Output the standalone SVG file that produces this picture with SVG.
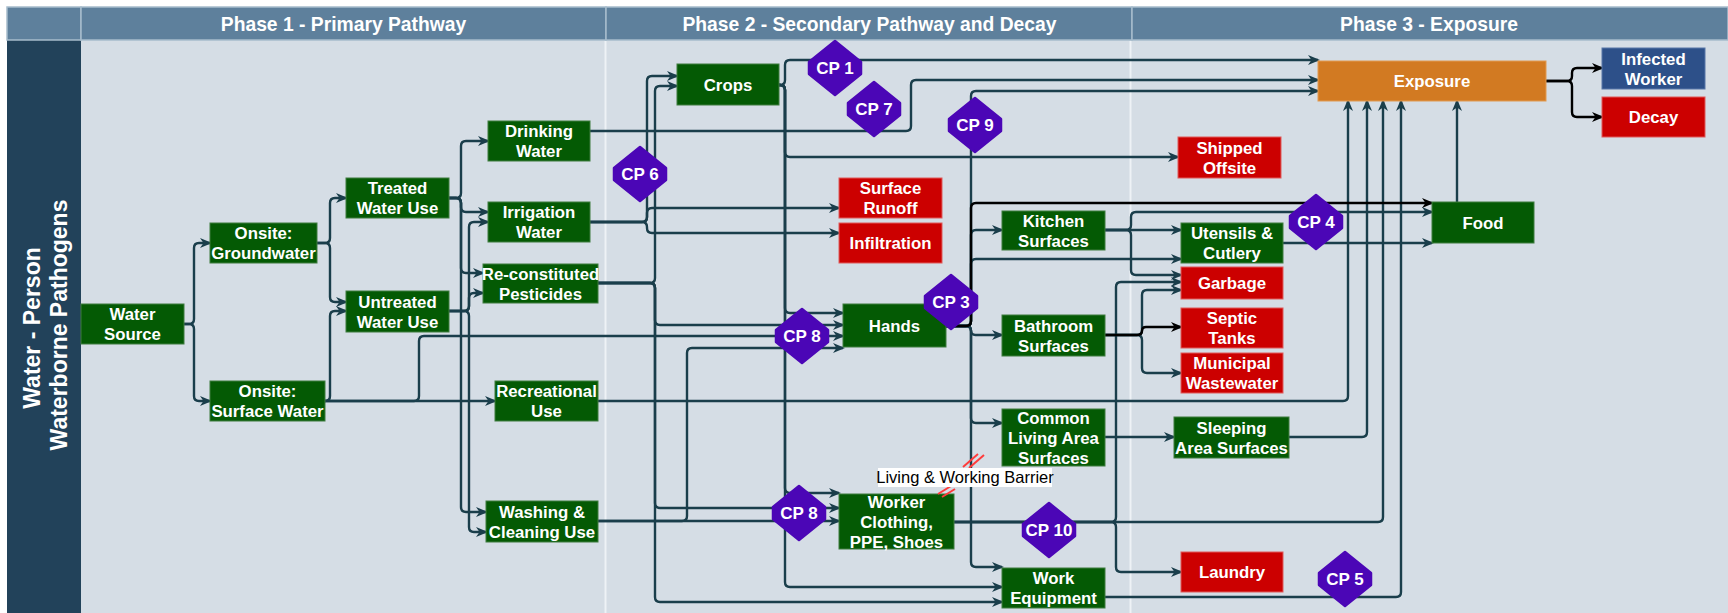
<svg xmlns="http://www.w3.org/2000/svg" xmlns:xlink="http://www.w3.org/1999/xlink" width="1728" height="613" viewBox="0 0 1728 613">
<style>
  .hdr{fill:#5e809c;stroke:#a7bccc;stroke-width:1.5}
  .ht{font-family:"Liberation Sans",Arial,sans-serif;font-weight:bold;font-size:19.3px;fill:#fff;text-anchor:middle}
  .lane{font-family:"Liberation Sans",Arial,sans-serif;font-weight:bold;font-size:23px;fill:#fff;text-anchor:middle}
  .g{fill:#045a04;stroke:#3f7d3f;stroke-width:1}
  .r{fill:#cc0000;stroke:#e05a5a;stroke-width:1}
  .o{fill:#d27a22;stroke:#e29a50;stroke-width:1}
  .b{fill:#2d5089;stroke:#5877a8;stroke-width:1}
  .t{font-family:"Liberation Sans",Arial,sans-serif;font-weight:bold;font-size:16.8px;fill:#fff;text-anchor:middle}
  #connectors path{fill:none;stroke:#1a3e4b;stroke-width:2.4;marker-end:url(#arr)}
  #connectors path.k{stroke:#000;marker-end:url(#arrk)}
  .cp{fill:#4b06b6;stroke:#4b06b6;stroke-width:2.5;stroke-linejoin:round}
  .ct{font-family:"Liberation Sans",Arial,sans-serif;font-weight:bold;font-size:17px;fill:#fff;text-anchor:middle}
  .sep{stroke:#eef2f6;stroke-width:2}
  .bar{stroke:#ff3b3b;stroke-width:2}
</style>
<defs>
  <marker id="arr" viewBox="0 0 12 10" refX="10" refY="5" markerWidth="12" markerHeight="10" markerUnits="userSpaceOnUse" orient="auto">
    <path d="M0,0 L12,5 L0,10 L3.5,5 Z" fill="#1a3e4b"/>
  </marker>
  <marker id="arrk" viewBox="0 0 12 10" refX="10" refY="5" markerWidth="12" markerHeight="10" markerUnits="userSpaceOnUse" orient="auto">
    <path d="M0,0 L12,5 L0,10 L3.5,5 Z" fill="#000"/>
  </marker>
  <path id="cpShape" d="M0,-27 L26,-6 L26,6 L0,27 L-26,6 L-26,-6 Z"/>
</defs>

<!-- swimlane table -->
<g id="lanes">
  <rect x="0" y="0" width="1728" height="613" fill="#fff"/>
  <rect x="7" y="40" width="1721" height="573" fill="#d5dde5"/>
  <rect x="7" y="40" width="74" height="573" fill="#22425a"/>
  <rect class="hdr" x="7" y="7" width="74" height="33"/>
  <rect class="hdr" x="81" y="7" width="525" height="33"/>
  <rect class="hdr" x="606" y="7" width="526" height="33"/>
  <rect class="hdr" x="1132" y="7" width="596" height="33"/>
  <line class="sep" x1="605.5" y1="41" x2="605.5" y2="613"/>
  <line class="sep" x1="1130.5" y1="41" x2="1130.5" y2="613"/>
  <text class="ht" x="343.5" y="31">Phase 1 - Primary Pathway</text>
  <text class="ht" x="869.5" y="31">Phase 2 - Secondary Pathway and Decay</text>
  <text class="ht" x="1429" y="31">Phase 3 - Exposure</text>
  <text class="lane" transform="translate(40,328) rotate(-90)">Water - Person</text>
  <text class="lane" transform="translate(67,325) rotate(-90)">Waterborne Pathogens</text>
</g>

<!-- connectors -->
<g id="connectors">
  <path d="M184,324 H189 Q194,324 194,319 V248 Q194,243 199,243 H210"/>
  <path d="M184,324 H189 Q194,324 194,329 V396 Q194,401 199,401 H210"/>
  <path d="M317,243 H325 Q330,243 330,238 V203 Q330,198 335,198 H346"/>
  <path d="M317,243 H325 Q330,243 330,248 V297 Q330,302 335,302 H346"/>
  <path d="M325,401 Q330,401 330,396 V316 Q330,311 335,311 H346"/>
  <path d="M325,401 H495"/>
  <path d="M325,401 H414 Q419,401 419,396 V341 Q419,336 424,336 H843"/>
  <path d="M449,198 H456 Q461,198 461,193 V146 Q461,141 466,141 H488"/>
  <path d="M449,198 H456 Q461,198 461,203 V207 Q461,212 466,212 H488"/>
  <path d="M449,198 H456 Q461,198 461,203 V268 Q461,273 466,273 H483"/>
  <path d="M449,198 H456 Q461,198 461,203 V507 Q461,512 466,512 H486"/>
  <path d="M449,311 H464 Q469,311 469,306 V227 Q469,222 474,222 H488"/>
  <path d="M449,311 H464 Q469,311 469,306 V298 Q469,293 474,293 H483"/>
  <path d="M449,311 H464 Q469,311 469,316 V527 Q469,532 474,532 H486"/>
  <path d="M590,131 H906 Q911,131 911,126 V85 Q911,80 916,80 H1318"/>
  <path d="M779,85 H780 Q785,85 785,80 V65 Q785,60 790,60 H1318"/>
  <path d="M779,85 H780 Q785,85 785,90 V152 Q785,157 790,157 H1178"/>
  <path d="M779,85 H780 Q785,85 785,90 V308 Q785,313 790,313 H843"/>
  <path d="M779,85 H780 Q785,85 785,90 V488 Q785,493 790,493 H839"/>
  <path d="M779,85 H780 Q785,85 785,90 V582 Q785,587 790,587 H1002"/>
  <path d="M590,222 H642 Q647,222 647,217 V81 Q647,76 652,76 H677"/>
  <path d="M590,222 H642 Q647,222 647,217 V213 Q647,208 652,208 H839"/>
  <path d="M590,222 H642 Q647,222 647,227 V228 Q647,233 652,233 H839"/>
  <path d="M598,283 H650 Q655,283 655,278 V91 Q655,86 660,86 H677"/>
  <path d="M598,283 H650 Q655,283 655,288 V320 Q655,325 660,325 H843"/>
  <path d="M598,283 H650 Q655,283 655,288 V503 Q655,508 660,508 H839"/>
  <path d="M598,283 H650 Q655,283 655,288 V597 Q655,602 660,602 H1002"/>
  <path d="M598,521 H839"/>
  <path d="M598,521 H682 Q687,521 687,516 V353 Q687,348 692,348 H843"/>
  <path d="M598,401 H1343 Q1348,401 1348,396 V101"/>
  <path d="M946,326 H966 Q971,326 971,321 V96 Q971,91 976,91 H1318"/>
  <path d="M946,326 H966 Q971,326 971,321 V235 Q971,230 976,230 H1002"/>
  <path d="M946,326 H966 Q971,326 971,321 V264 Q971,259 976,259 H1181"/>
  <path d="M946,326 H966 Q971,326 971,330.5 Q971,335 975.5,335 H1002"/>
  <path d="M946,326 H966 Q971,326 971,331 V418 Q971,423 976,423 H1002"/>
  <path d="M946,326 H966 Q971,326 971,331 V562 Q971,567 976,567 H1002"/>
  <path d="M1105,230 H1181"/>
  <path d="M1105,230 H1126 Q1131,230 1131,225 V217 Q1131,212 1136,212 H1432"/>
  <path d="M1105,230 H1126 Q1131,230 1131,235 V270 Q1131,275 1136,275 H1181"/>
  <path d="M1105,335 H1137 Q1142,335 1142,340 V368 Q1142,373 1147,373 H1181"/>
  <path d="M1105,335 H1137 Q1142,335 1142,330 V295 Q1142,290 1147,290 H1181"/>
  <path d="M954,522 H1111 Q1116,522 1116,517 V287 Q1116,282 1121,282 H1181"/>
  <path d="M954,522 H1111 Q1116,522 1116,527 V567 Q1116,572 1121,572 H1181"/>
  <path d="M954,522 H1378 Q1383,522 1383,517 V101"/>
  <path d="M1105,437 H1174"/>
  <path d="M1289,437 H1362 Q1367,437 1367,432 V101"/>
  <path d="M1105,597 H1396 Q1401,597 1401,592 V101"/>
  <path d="M1283,243 H1432"/>
  <path d="M1457,202 V101"/>
  <path class="k" d="M946,326 H966 Q971,326 971,321 V208 Q971,203 976,203 H1432"/>
  <path class="k" d="M1105,335 H1137 Q1142,335 1142,331 Q1142,327 1146,327 H1181"/>
  <path class="k" d="M1546,81 H1567 Q1572,81 1572,76 V73 Q1572,68 1577,68 H1602"/>
  <path class="k" d="M1546,81 H1567 Q1572,81 1572,86 V112 Q1572,117 1577,117 H1602"/>
</g>

<!-- nodes -->
<g id="nodes">
  <g id="water-source"><rect class="g" x="81" y="304" width="103" height="40"/><text class="t" x="132.5" y="320">Water</text><text class="t" x="132.5" y="340">Source</text></g>
  <g id="onsite-groundwater"><rect class="g" x="210" y="223" width="107" height="40"/><text class="t" x="263.5" y="239">Onsite:</text><text class="t" x="263.5" y="259">Groundwater</text></g>
  <g id="onsite-surface-water"><rect class="g" x="210" y="381" width="115" height="40"/><text class="t" x="267.5" y="397">Onsite:</text><text class="t" x="267.5" y="417">Surface Water</text></g>
  <g id="treated-water-use"><rect class="g" x="346" y="178" width="103" height="40"/><text class="t" x="397.5" y="194">Treated</text><text class="t" x="397.5" y="214">Water Use</text></g>
  <g id="untreated-water-use"><rect class="g" x="346" y="291" width="103" height="41"/><text class="t" x="397.5" y="307.5">Untreated</text><text class="t" x="397.5" y="327.5">Water Use</text></g>
  <g id="drinking-water"><rect class="g" x="488" y="121" width="102" height="40"/><text class="t" x="539" y="137">Drinking</text><text class="t" x="539" y="157">Water</text></g>
  <g id="irrigation-water"><rect class="g" x="488" y="202" width="102" height="40"/><text class="t" x="539" y="218">Irrigation</text><text class="t" x="539" y="238">Water</text></g>
  <g id="pesticides"><rect class="g" x="483" y="264" width="115" height="39"/><text class="t" x="540.5" y="279.5">Re-constituted</text><text class="t" x="540.5" y="299.5">Pesticides</text></g>
  <g id="recreational-use"><rect class="g" x="495" y="381" width="103" height="40"/><text class="t" x="546.5" y="397">Recreational</text><text class="t" x="546.5" y="417">Use</text></g>
  <g id="washing-cleaning"><rect class="g" x="486" y="501" width="112" height="41"/><text class="t" x="542" y="517.5">Washing &amp;</text><text class="t" x="542" y="537.5">Cleaning Use</text></g>

  <g id="crops"><rect class="g" x="677" y="64" width="102" height="41"/><text class="t" x="728" y="90.5">Crops</text></g>
  <g id="surface-runoff"><rect class="r" x="839" y="178" width="103" height="40"/><text class="t" x="890.5" y="194">Surface</text><text class="t" x="890.5" y="214">Runoff</text></g>
  <g id="infiltration"><rect class="r" x="839" y="223" width="103" height="40"/><text class="t" x="890.5" y="249">Infiltration</text></g>
  <g id="hands"><rect class="g" x="843" y="304" width="103" height="43"/><text class="t" x="894.5" y="331.5">Hands</text></g>
  <g id="kitchen-surfaces"><rect class="g" x="1002" y="211" width="103" height="39"/><text class="t" x="1053.5" y="226.5">Kitchen</text><text class="t" x="1053.5" y="246.5">Surfaces</text></g>
  <g id="bathroom-surfaces"><rect class="g" x="1002" y="315" width="103" height="41"/><text class="t" x="1053.5" y="331.5">Bathroom</text><text class="t" x="1053.5" y="351.5">Surfaces</text></g>
  <g id="common-living"><rect class="g" x="1002" y="409" width="103" height="57"/><text class="t" x="1053.5" y="423.5">Common</text><text class="t" x="1053.5" y="443.5">Living Area</text><text class="t" x="1053.5" y="463.5">Surfaces</text></g>
  <g id="worker-clothing"><rect class="g" x="839" y="494" width="115" height="55"/><text class="t" x="896.5" y="507.5">Worker</text><text class="t" x="896.5" y="527.5">Clothing,</text><text class="t" x="896.5" y="547.5">PPE, Shoes</text></g>
  <g id="work-equipment"><rect class="g" x="1002" y="568" width="103" height="40"/><text class="t" x="1053.5" y="584">Work</text><text class="t" x="1053.5" y="604">Equipment</text></g>

  <g id="exposure"><rect class="o" x="1318" y="61" width="228" height="40"/><text class="t" x="1432" y="87">Exposure</text></g>
  <g id="infected-worker"><rect class="b" x="1602" y="48" width="103" height="41"/><text class="t" x="1653.5" y="64.5">Infected</text><text class="t" x="1653.5" y="84.5">Worker</text></g>
  <g id="decay"><rect class="r" x="1602" y="97" width="103" height="40"/><text class="t" x="1653.5" y="123">Decay</text></g>
  <g id="shipped-offsite"><rect class="r" x="1178" y="137" width="103" height="41"/><text class="t" x="1229.5" y="153.5">Shipped</text><text class="t" x="1229.5" y="173.5">Offsite</text></g>
  <g id="food"><rect class="g" x="1432" y="202" width="102" height="41"/><text class="t" x="1483" y="228.5">Food</text></g>
  <g id="utensils-cutlery"><rect class="g" x="1181" y="223" width="102" height="40"/><text class="t" x="1232" y="239">Utensils &amp;</text><text class="t" x="1232" y="259">Cutlery</text></g>
  <g id="garbage"><rect class="r" x="1181" y="267" width="102" height="32"/><text class="t" x="1232" y="289">Garbage</text></g>
  <g id="septic-tanks"><rect class="r" x="1181" y="308" width="102" height="40"/><text class="t" x="1232" y="324">Septic</text><text class="t" x="1232" y="344">Tanks</text></g>
  <g id="municipal-wastewater"><rect class="r" x="1181" y="353" width="102" height="40"/><text class="t" x="1232" y="369">Municipal</text><text class="t" x="1232" y="389">Wastewater</text></g>
  <g id="sleeping-area"><rect class="g" x="1174" y="417" width="115" height="41"/><text class="t" x="1231.5" y="433.5">Sleeping</text><text class="t" x="1231.5" y="453.5">Area Surfaces</text></g>
  <g id="laundry"><rect class="r" x="1181" y="552" width="102" height="40"/><text class="t" x="1232" y="578">Laundry</text></g>
</g>

<!-- barrier marks and label -->
<g id="barrier">
  <line class="bar" x1="963" y1="467" x2="978" y2="454"/>
  <line class="bar" x1="969" y1="468" x2="984" y2="455"/>
  <line class="bar" x1="938" y1="494" x2="951" y2="486"/>
  <line class="bar" x1="942" y1="497" x2="955" y2="489"/>
  <rect x="878" y="468" width="174" height="19" fill="#fff"/>
  <text x="965" y="483" font-family="Liberation Sans, Arial, sans-serif" font-size="16.5" fill="#000" text-anchor="middle">Living &amp; Working Barrier</text>
</g>

<!-- control points -->
<g id="control-points">
  <g id="cp1"><use xlink:href="#cpShape" class="cp" x="835" y="68"/><text class="ct" x="835" y="74">CP 1</text></g>
  <g id="cp7"><use xlink:href="#cpShape" class="cp" x="874" y="109"/><text class="ct" x="874" y="115">CP 7</text></g>
  <g id="cp9"><use xlink:href="#cpShape" class="cp" x="975" y="125"/><text class="ct" x="975" y="131">CP 9</text></g>
  <g id="cp6"><use xlink:href="#cpShape" class="cp" x="640" y="174"/><text class="ct" x="640" y="180">CP 6</text></g>
  <g id="cp3"><use xlink:href="#cpShape" class="cp" x="951" y="302"/><text class="ct" x="951" y="308">CP 3</text></g>
  <g id="cp8a"><use xlink:href="#cpShape" class="cp" x="802" y="336"/><text class="ct" x="802" y="342">CP 8</text></g>
  <g id="cp8b"><use xlink:href="#cpShape" class="cp" x="799" y="513"/><text class="ct" x="799" y="519">CP 8</text></g>
  <g id="cp10"><use xlink:href="#cpShape" class="cp" x="1049" y="530"/><text class="ct" x="1049" y="536">CP 10</text></g>
  <g id="cp4"><use xlink:href="#cpShape" class="cp" x="1316" y="222"/><text class="ct" x="1316" y="228">CP 4</text></g>
  <g id="cp5"><use xlink:href="#cpShape" class="cp" x="1345" y="579"/><text class="ct" x="1345" y="585">CP 5</text></g>
</g>
</svg>
